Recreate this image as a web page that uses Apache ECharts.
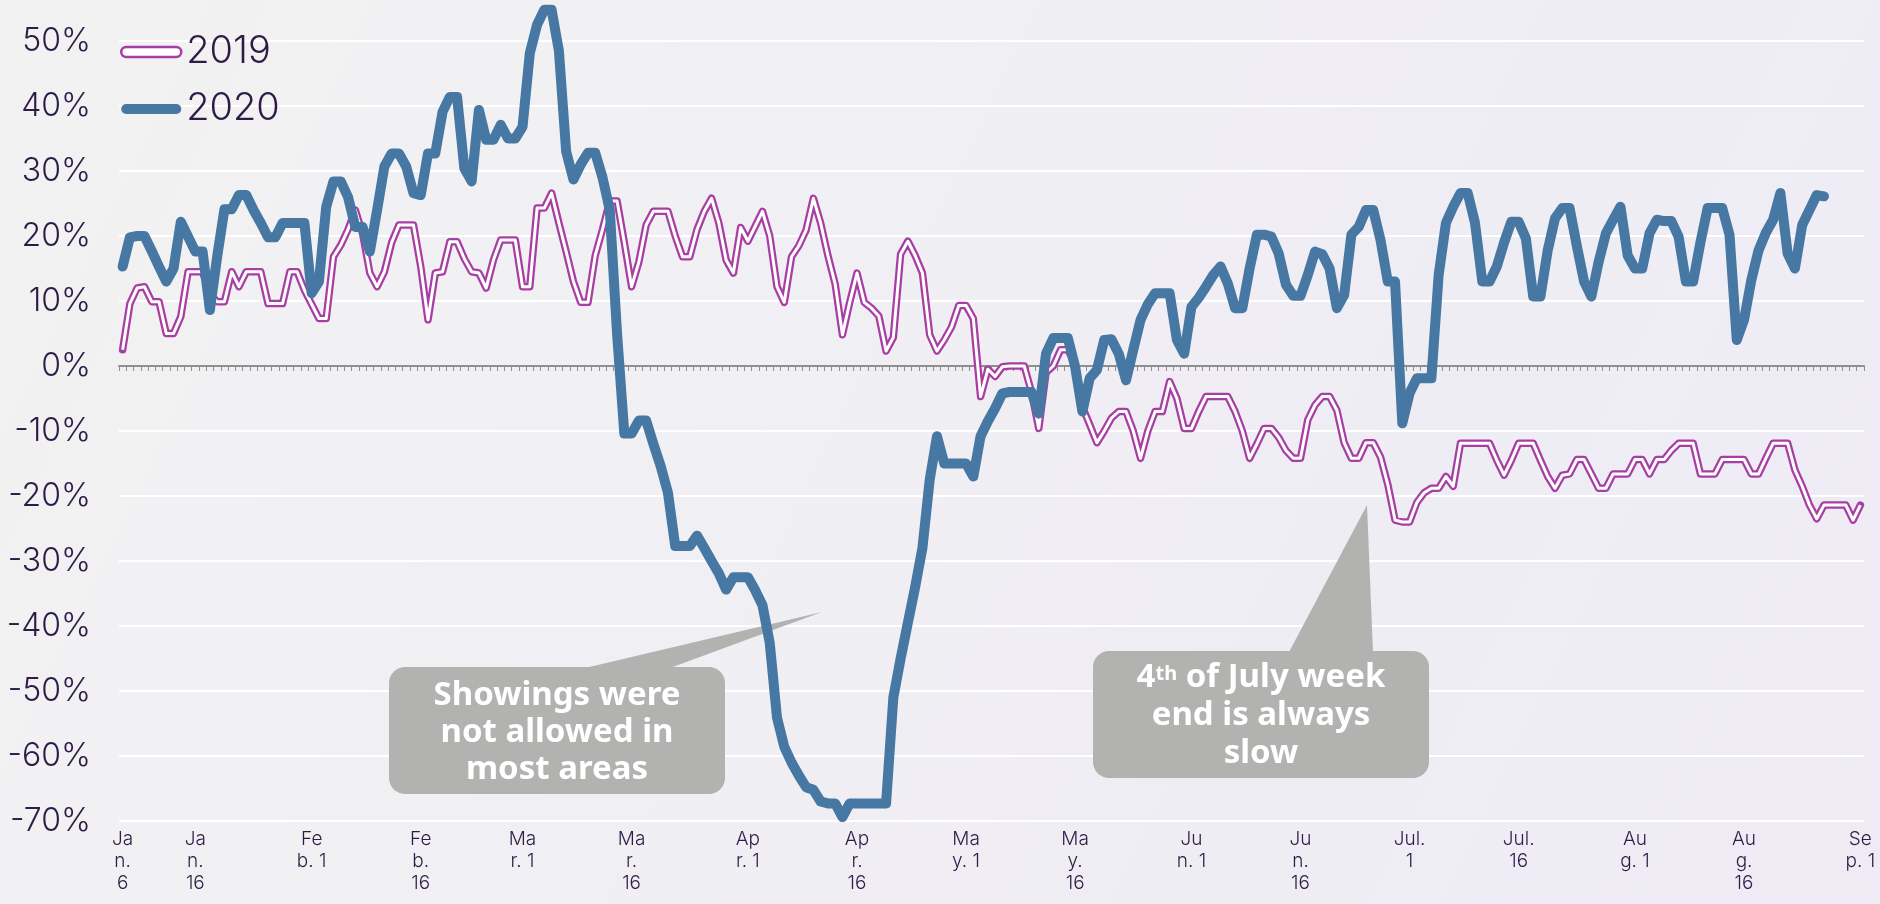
<!DOCTYPE html>
<html>
<head>
<meta charset="utf-8">
<script src="https://cdn.jsdelivr.net/npm/echarts@6/dist/echarts.min.js"></script>
<style>
  html, body { margin: 0; padding: 0; }
  #chart { width: 1880px; height: 904px; }
</style>
</head>
<body>
<div id="chart"></div>
<script>
// one category per day, Jan 6 .. Sep 1
const dayCount = 240
const categories = []
for (let i = 0; i < dayCount; i++) {
  const d = new Date(2020, 0, 6 + i)
  categories.push((d.getMonth() + 1) + '/' + d.getDate())
}

const tickDays = [0, 10, 26, 41, 55, 70, 86, 101, 116, 131, 147, 162, 177, 192, 208, 223, 239]
const tickLabels = [
  'Ja\nn.\n6', 'Ja\nn.\n16', 'Fe\nb. 1', 'Fe\nb.\n16', 'Ma\nr. 1', 'Ma\nr.\n16',
  'Ap\nr. 1', 'Ap\nr.\n16', 'Ma\ny. 1', 'Ma\ny.\n16', 'Ju\nn. 1', 'Ju\nn.\n16',
  'Jul.\n1', 'Jul.\n16', 'Au\ng. 1', 'Au\ng.\n16', 'Se\np. 1'
]

// percent change, 2019
const values2019 = [
  2.5, 9.6, 12, 12.2, 9.9, 9.9, 5, 5, 7.6, 14.5,
  14.5, 14.5, 11, 9.9, 9.9, 14.5, 12.2, 14.5, 14.5, 14.5,
  9.6, 9.6, 9.6, 14.5, 14.5, 11.7, 9.5, 7.3, 7.3, 16.8,
  18.6, 21, 24, 20.4, 14.3, 12.2, 14.5, 19, 21.7, 21.7,
  21.7, 15.3, 7.1, 14.3, 14.5, 19.1, 19.1, 16.5, 14.5, 14.3,
  12, 16.3, 19.4, 19.4, 19.4, 12.2, 12.2, 24.3, 24.3, 26.6,
  22, 17.6, 13, 9.8, 9.8, 17, 21, 25.4, 25.4, 19,
  12.2, 16, 21.7, 23.8, 23.8, 23.8, 20, 16.8, 16.8, 21,
  23.8, 25.8, 22, 16.3, 14.3, 21.3, 19.2, 21.5, 23.8, 20,
  12.2, 9.8, 16.8, 18.5, 20.9, 25.8, 22, 17, 12.6, 4.8,
  9.8, 14.3, 9.8, 8.9, 7.7, 2.3, 4.4, 17.2, 19.2, 17,
  14.3, 4.8, 2.3, 4, 6, 9.3, 9.3, 7.3, -4.7, -0.5,
  -1.6, -0.1, 0, 0, 0, -4, -9.6, -1, 0, 2.5,
  2.5, 0.4, -6.3, -9, -11.8, -10, -8, -7, -7, -10,
  -14.2, -10, -7, -7, -2.4, -5, -9.6, -9.6, -7, -4.7,
  -4.7, -4.7, -4.7, -7, -10, -14.2, -12, -9.6, -9.6, -11,
  -13, -14.2, -14.2, -8.3, -6, -4.7, -4.7, -6.8, -11.8, -14.2,
  -14.2, -11.8, -11.8, -14, -18.2, -23.7, -24, -24, -21, -19.5,
  -18.8, -18.8, -17, -18.5, -11.9, -11.9, -11.9, -11.9, -11.9, -14.5,
  -16.8, -14.5, -11.9, -11.9, -11.9, -14.5, -17, -18.8, -16.8, -16.6,
  -14.4, -14.4, -16.6, -18.8, -18.8, -16.6, -16.6, -16.6, -14.4, -14.4,
  -16.6, -14.4, -14.4, -13, -11.9, -11.9, -11.9, -16.6, -16.6, -16.6,
  -14.4, -14.4, -14.4, -14.4, -16.6, -16.6, -14.2, -11.9, -11.9, -11.9,
  -16, -18.5, -21.4, -23.5, -21.4, -21.4, -21.4, -21.4, -23.7, -21.4
]

// percent change, 2020
const values2020 = [
  15.3, 19.8, 20, 20, 17.7, 15.3, 13, 15, 22.2, 19.9,
  17.6, 17.6, 8.6, 16.8, 24.1, 24.1, 26.3, 26.3, 24, 22,
  19.8, 19.8, 22, 22, 22, 22, 11.2, 13, 24.5, 28.4,
  28.4, 26, 21.4, 21.4, 17.6, 24, 30.7, 32.7, 32.7, 30.7,
  26.6, 26.3, 32.7, 32.7, 39.1, 41.4, 41.4, 30.4, 28.4, 39.4,
  34.8, 34.8, 37.1, 35, 35, 36.8, 48.1, 52.5, 54.8, 54.8,
  48.5, 33, 28.7, 31, 32.8, 32.8, 29, 24, 5, -10.4,
  -10.4, -8.4, -8.4, -12, -15.4, -19.5, -27.7, -27.7, -27.7, -26.1,
  -28, -30, -31.9, -34.4, -32.5, -32.5, -32.5, -34.5, -36.8, -42.6,
  -54.1, -58.6, -61, -63, -64.8, -65.2, -67, -67.3, -67.3, -69.4,
  -67.3, -67.3, -67.3, -67.3, -67.3, -67.3, -51, -45, -39.5, -34,
  -28, -17.5, -10.8, -15, -15, -15, -15, -17, -10.8, -8.5,
  -6.5, -4.2, -4, -4, -4, -4, -7.3, 1.9, 4.3, 4.3,
  4.3, -0.1, -7, -1.9, -0.6, 4, 4.1, 1.9, -2.2, 2.5,
  7.1, 9.5, 11.2, 11.2, 11.2, 4, 1.9, 9.1, 10.5, 12.2,
  14, 15.3, 12.7, 8.9, 8.9, 15, 20.2, 20.2, 19.9, 17.3,
  12.5, 10.8, 10.8, 14, 17.6, 17.2, 15, 8.9, 10.9, 20.2,
  21.4, 24, 24, 19.4, 13, 13, -8.8, -4.2, -1.9, -1.9,
  -1.9, 14, 22, 24.5, 26.6, 26.6, 22, 13, 13, 15.3,
  19, 22.2, 22.2, 19.6, 10.7, 10.7, 17.8, 22.7, 24.3, 24.3,
  18.5, 13, 10.7, 16, 20.4, 22.5, 24.5, 17, 15, 15,
  20.4, 22.5, 22.3, 22.3, 19.9, 13, 13, 19, 24.3, 24.3,
  24.3, 20.2, 4, 7.1, 13.2, 17.8, 20.5, 22.5, 26.6, 17.3,
  15, 21.7, 24, 26.3, 26.1
]

const magenta = '#a83ea4'
const blue = '#4777a3'
const textColor = '#2e1c47'
const calloutGrey = '#b2b3b1'
const capsule = 'path://M5,0H55A5,5 0 0 1 55,10H5A5,5 0 0 1 5,0Z'

const chart = echarts.init(document.getElementById('chart'))

chart.setOption({
  animation: false,
  backgroundColor: {
    type: 'linear', x: 0, y: 0, x2: 1, y2: 1,
    colorStops: [
      { offset: 0, color: '#f2f2f2' },
      { offset: 1, color: '#eeebf5' }
    ]
  },
  grid: {
    left: 119,
    right: 16,
    top: -24,
    bottom: 83,
    containLabel: false,
    outerBoundsMode: 'none'
  },
  legend: {
    orient: 'vertical',
    left: 120,
    top: 30,
    padding: 0,
    itemGap: 13,
    itemWidth: 60,
    itemHeight: 10,
    selectedMode: false,
    textStyle: {
      fontFamily: 'Inter',
      fontWeight: 300,
      fontSize: 38,
      lineHeight: 44,
      color: textColor
    },
    data: [
      { name: '2019', icon: capsule, itemStyle: { color: '#ffffff', borderColor: magenta, borderWidth: 2.5 } },
      { name: '2020', icon: capsule, itemStyle: { color: blue, borderWidth: 0 } }
    ]
  },
  xAxis: [
    {
      type: 'category',
      data: categories,
      boundaryGap: true,
      position: 'bottom',
      axisLine: { show: false, onZero: false },
      axisTick: { show: false },
      splitLine: { show: false },
      axisLabel: {
        interval: (i) => tickDays.includes(i),
        formatter: (v, i) => tickLabels[tickDays.indexOf(i)] || '',
        fontFamily: 'Inter',
        fontWeight: 300,
        fontSize: 19,
        lineHeight: 22,
        color: textColor,
        margin: 7
      }
    },
    {
      type: 'category',
      data: categories,
      boundaryGap: true,
      position: 'top',
      min: 0,
      max: dayCount - 1,
      axisLine: { show: true, onZero: true, lineStyle: { color: '#8f8f8f', width: 2 } },
      axisTick: { show: true, interval: 0, inside: true, length: 5, lineStyle: { color: '#8f8f8f', width: 1 } },
      axisLabel: { show: false },
      splitLine: { show: false }
    }
  ],
  yAxis: {
    type: 'value',
    min: -70,
    max: 60,
    interval: 10,
    axisLine: { show: false },
    axisTick: { show: false },
    axisLabel: {
      formatter: '{value}%',
      fontFamily: 'Inter',
      fontWeight: 300,
      fontSize: 32,
      color: textColor,
      margin: 28
    },
    splitLine: { lineStyle: { color: '#ffffff', width: 2 } }
  },
  series: [
    {
      name: '2019',
      type: 'line',
      data: values2019,
      symbol: 'none',
      z: 3,
      lineStyle: { color: magenta, width: 7.5, cap: 'round', join: 'round' },
      itemStyle: { color: magenta }
    },
    {
      name: '2019',
      type: 'line',
      data: values2019,
      symbol: 'none',
      z: 4,
      lineStyle: { color: '#ffffff', width: 3, join: 'round' },
      itemStyle: { color: magenta }
    },
    {
      name: '2020',
      type: 'line',
      data: values2020,
      symbol: 'none',
      z: 5,
      lineStyle: { color: blue, width: 10, cap: 'round', join: 'round' },
      itemStyle: { color: blue }
    }
  ],
  graphic: [
    { type: 'polygon', z: 1, shape: { points: [[585, 668], [822, 612], [670, 668]] }, style: { fill: calloutGrey } },
    { type: 'rect', z: 1, shape: { x: 389, y: 667, width: 336, height: 127, r: 16 }, style: { fill: calloutGrey } },
    {
      type: 'text', z: 1, x: 557, y: 733,
      style: {
        text: 'Showings were\nnot allowed in\nmost areas',
        fill: '#ffffff',
        font: 'bold 33px "Noto Sans"',
        lineHeight: 37,
        align: 'center', verticalAlign: 'middle',
        textAlign: 'center', textVerticalAlign: 'middle'
      }
    },
    { type: 'polygon', z: 1, shape: { points: [[1289, 652], [1367, 505], [1373, 652]] }, style: { fill: calloutGrey } },
    { type: 'rect', z: 1, shape: { x: 1093, y: 651, width: 336, height: 127, r: 16 }, style: { fill: calloutGrey } },
    {
      type: 'text', z: 1, x: 1261, y: 716,
      style: {
        text: '{a|4}{s|th}{a| of July week}\n{a|end is always}\n{a|slow}',
        align: 'center', verticalAlign: 'middle',
        textAlign: 'center', textVerticalAlign: 'middle',
        rich: {
          a: { fill: '#ffffff', fontFamily: 'Noto Sans', fontWeight: 'bold', fontSize: 33, lineHeight: 38 },
          s: { fill: '#ffffff', fontFamily: 'Noto Sans', fontWeight: 'bold', fontSize: 20, lineHeight: 38, verticalAlign: 'top', padding: [5, 0, 0, 0] }
        }
      }
    }
  ]
})
</script>
</body>
</html>
